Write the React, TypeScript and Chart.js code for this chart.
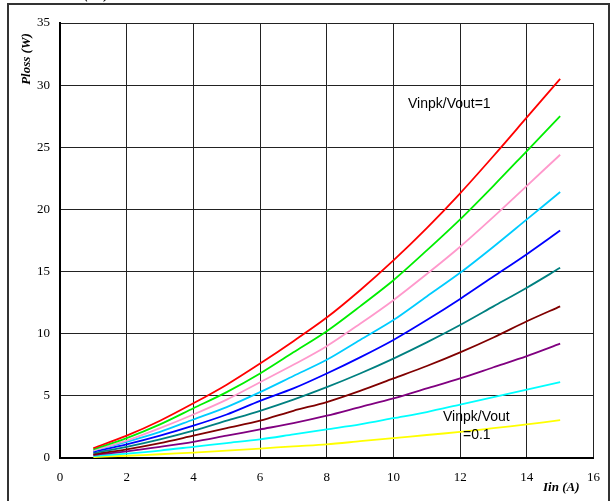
import React, { useEffect, useRef } from "react";
import { Chart, registerables } from "chart.js";

Chart.register(...registerables);

const iin = [1, 2, 3, 4, 5, 6, 7, 8, 9, 10, 11, 12, 13, 14, 15];
const ratio10 = [0.8, 1.8, 3.0, 4.4, 5.9, 7.6, 9.4, 11.3, 13.5, 15.9, 18.5, 21.3, 24.3, 27.4, 30.5];
const ratio09 = [0.7, 1.6, 2.7, 4.0, 5.3, 6.8, 8.5, 10.2, 12.2, 14.3, 16.7, 19.2, 21.9, 24.7, 27.5];
const ratio08 = [0.6, 1.4, 2.4, 3.5, 4.7, 6.1, 7.5, 9.0, 10.8, 12.7, 14.8, 17.0, 19.4, 21.9, 24.4];
const ratio07 = [0.6, 1.3, 2.1, 3.1, 4.1, 5.3, 6.6, 7.9, 9.5, 11.1, 13.0, 14.9, 17.0, 19.2, 21.4];
const ratio06 = [0.5, 1.1, 1.8, 2.6, 3.5, 4.6, 5.6, 6.8, 8.1, 9.5, 11.1, 12.8, 14.6, 16.4, 18.3];
const ratio05 = [0.4, 0.9, 1.5, 2.2, 3.0, 3.8, 4.7, 5.7, 6.8, 8.0, 9.3, 10.7, 12.2, 13.7, 15.3];
const ratio04 = [0.3, 0.7, 1.2, 1.8, 2.4, 3.0, 3.8, 4.5, 5.4, 6.4, 7.4, 8.5, 9.7, 11.0, 12.2];
const ratio03 = [0.24, 0.54, 0.9, 1.3, 1.8, 2.3, 2.8, 3.4, 4.1, 4.8, 5.6, 6.4, 7.3, 8.2, 9.2];
const ratio02 = [0.16, 0.36, 0.6, 0.9, 1.2, 1.5, 1.9, 2.3, 2.7, 3.2, 3.7, 4.3, 4.9, 5.5, 6.1];
const ratio01 = [0.08, 0.18, 0.3, 0.44, 0.6, 0.76, 0.94, 1.1, 1.35, 1.6, 1.85, 2.1, 2.4, 2.7, 3.05];

const seriesNames = ["1", "0.9", "0.8", "0.7", "0.6", "0.5", "0.4", "0.3", "0.2", "0.1"];
const seriesValues = [ratio10, ratio09, ratio08, ratio07, ratio06, ratio05, ratio04, ratio03, ratio02, ratio01];
const seriesColors = [
  "#ff0000", "#00ee00", "#ff99cc", "#00ccff", "#0000ff",
  "#008080", "#800000", "#800080", "#00ffff", "#ffff00",
];

const xTicks = [0, 2, 4, 6, 8, 10, 12, 14, 16];
const yTicks = [0, 5, 10, 15, 20, 25, 30, 35];

const decorPlugin = {
  id: "decor",
  afterDraw(chart: any) {
    const ctx = chart.ctx;
    ctx.save();
    ctx.strokeStyle = "#333";
    ctx.lineWidth = 2;
    ctx.beginPath();
    ctx.moveTo(8, 501);
    ctx.lineTo(8, 4);
    ctx.lineTo(609, 4);
    ctx.lineTo(609, 501);
    ctx.stroke();

    ctx.fillStyle = "#000";
    ctx.font = "bold italic 13px 'Liberation Serif', serif";
    ctx.textAlign = "left";
    ctx.textBaseline = "alphabetic";
    ctx.fillText("Ploss", 18, -1);
    ctx.fillText("(Iin)", 84, -1);

    ctx.save();
    ctx.translate(27, 59);
    ctx.rotate(-Math.PI / 2);
    ctx.textAlign = "center";
    ctx.textBaseline = "middle";
    ctx.font = "bold italic 13px 'Liberation Serif', serif";
    ctx.fillText("Ploss (W)", 0, 0);
    ctx.restore();

    ctx.textAlign = "left";
    ctx.textBaseline = "middle";
    ctx.font = "bold italic 13px 'Liberation Serif', serif";
    ctx.fillText("Iin (A)", 543, 488);

    ctx.font = "14px 'Liberation Sans', Arial, sans-serif";
    ctx.textBaseline = "middle";
    ctx.textAlign = "left";
    ctx.fillText("Vinpk/Vout=1", 408, 104);
    ctx.fillText("Vinpk/Vout", 443, 417);
    ctx.fillText("=0.1", 463, 435);
    ctx.restore();
  },
};

export default function App() {
  const ref = useRef<HTMLCanvasElement>(null);
  useEffect(() => {
    if (!ref.current) return;
    const chart = new Chart(ref.current, {
      type: "line",
      data: {
        datasets: seriesNames.map((name, i) => ({
          label: "Vinpk/Vout=" + name,
          data: iin.map((x, j) => ({ x, y: seriesValues[i][j] })),
          borderColor: seriesColors[i],
          backgroundColor: seriesColors[i],
          borderWidth: 1.8,
          pointRadius: 0,
          tension: 0.3,
          fill: false,
        })),
      },
      options: {
        animation: false,
        responsive: false,
        layout: { padding: { left: 0, top: 23, right: 16, bottom: 0 } },
        plugins: { legend: { display: false }, tooltip: { enabled: false }, title: { display: false } },
        scales: {
          x: {
            type: "linear",
            min: 0,
            max: 16,
            afterBuildTicks: (s: any) => { s.ticks = xTicks.map((v) => ({ value: v })); },
            afterFit: (s: any) => { s.height = 43; },
            ticks: {
              padding: 12,
              color: "#000",
              font: { family: "'Liberation Serif', serif", size: 13 },
              maxRotation: 0,
            },
            grid: { color: "#222", lineWidth: 1, drawTicks: false },
            border: { display: true, color: "#000", width: 2 },
          },
          y: {
            type: "linear",
            min: 0,
            max: 35,
            afterBuildTicks: (s: any) => { s.ticks = yTicks.map((v) => ({ value: v })); },
            afterFit: (s: any) => { s.width = 60; },
            ticks: {
              padding: 10,
              color: "#000",
              font: { family: "'Liberation Serif', serif", size: 13 },
            },
            grid: { color: "#222", lineWidth: 1, drawTicks: false },
            border: { display: true, color: "#000", width: 2 },
          },
        },
      },
      plugins: [decorPlugin],
    });
    return () => chart.destroy();
  }, []);
  return (
    <div style={{ position: "fixed", left: 0, top: 0, width: 612, height: 501, background: "#fff" }}>
      <canvas ref={ref} width={612} height={501} style={{ width: 612, height: 501, display: "block" }} />
    </div>
  );
}
